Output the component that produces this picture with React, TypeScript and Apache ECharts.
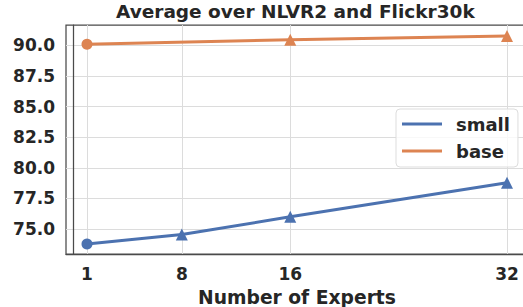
import React, { useEffect, useRef } from "react";
import * as echarts from "echarts";

const experts = [1, 8, 16, 32];
const smallValues = [73.78, 74.55, 76.0, 78.78];
const baseExperts = [1, 16, 32];
const baseValues = [90.1, 90.47, 90.78];
const yTicks = [75.0, 77.5, 80.0, 82.5, 85.0, 87.5, 90.0];
const seriesNames = ["small", "base"];

const FONT = "DejaVu Sans";
const TXT = "#262626";

function points(xs: number[], ys: number[]) {
  return xs.map((x, i) => ({
    value: [x, ys[i]],
    symbol: i === 0 ? "circle" : "triangle",
    symbolSize: i === 0 ? 11 : 12,
  }));
}

export default function App() {
  const ref = useRef<HTMLDivElement>(null);
  useEffect(() => {
    const chart = echarts.init(ref.current!, null, { renderer: "svg" });
    chart.setOption({
      animation: false,
      backgroundColor: "#ffffff",
      title: {
        text: "Average over NLVR2 and Flickr30k",
        left: 116,
        top: 2,
        padding: 0,
        textStyle: { fontFamily: FONT, fontWeight: "bold", fontSize: 18.5, color: TXT },
      },
      grid: {
        left: 66,
        top: 25,
        width: 462,
        height: 229,
        containLabel: false,
        outerBoundsMode: "none",
        show: true,
        borderColor: "#4a4a4a",
        borderWidth: 1.25,
        backgroundColor: "transparent",
      },
      legend: {
        orient: "vertical",
        left: 396,
        top: 109,
        padding: [6, 8, 7, 6],
        itemWidth: 40,
        itemHeight: 3,
        itemGap: 9,
        icon: "rect",
        backgroundColor: "rgba(255,255,255,0.8)",
        borderColor: "#dddddd",
        borderWidth: 1,
        borderRadius: 4,
        data: seriesNames,
        textStyle: {
          fontFamily: FONT,
          fontWeight: "bold",
          fontSize: 18,
          color: TXT,
          lineHeight: 18,
          padding: [0, 0, 0, 9],
        },
      },
      xAxis: {
        type: "value",
        min: -0.55,
        max: 33.55,
        name: "Number of Experts",
        nameLocation: "middle",
        nameGap: 34,
        nameTextStyle: { fontFamily: FONT, fontWeight: "bold", fontSize: 18.7, color: TXT },
        axisLine: { show: true, lineStyle: { color: "#4a4a4a", width: 1.25 } },
        axisTick: { show: false, customValues: experts },
        axisLabel: {
          customValues: experts,
          margin: 11,
          fontFamily: FONT,
          fontWeight: "bold",
          fontSize: 17,
          color: TXT,
        },
        splitLine: { show: true, lineStyle: { color: "#dcdcdc", width: 1 } },
      },
      yAxis: {
        type: "value",
        min: 72.96,
        max: 91.67,
        axisLine: { show: true, lineStyle: { color: "#4a4a4a", width: 1.25 } },
        axisTick: { show: false, customValues: yTicks },
        axisLabel: {
          customValues: yTicks,
          margin: 11,
          formatter: (v: number) => v.toFixed(1),
          fontFamily: FONT,
          fontWeight: "bold",
          fontSize: 17,
          color: TXT,
        },
        splitLine: { show: true, lineStyle: { color: "#dcdcdc", width: 1 } },
      },
      series: [
        {
          name: seriesNames[0],
          type: "line",
          data: points(experts, smallValues),
          lineStyle: { color: "#4c72b0", width: 3 },
          itemStyle: { color: "#4c72b0" },
          symbol: "triangle",
          z: 3,
        },
        {
          name: seriesNames[1],
          type: "line",
          data: points(baseExperts, baseValues),
          lineStyle: { color: "#dd8452", width: 3 },
          itemStyle: { color: "#dd8452" },
          symbol: "triangle",
          z: 3,
        },
      ],
    });
    return () => chart.dispose();
  }, []);
  return (
    <div
      ref={ref}
      style={{ position: "fixed", left: 0, top: 0, width: 523, height: 307 }}
    />
  );
}
